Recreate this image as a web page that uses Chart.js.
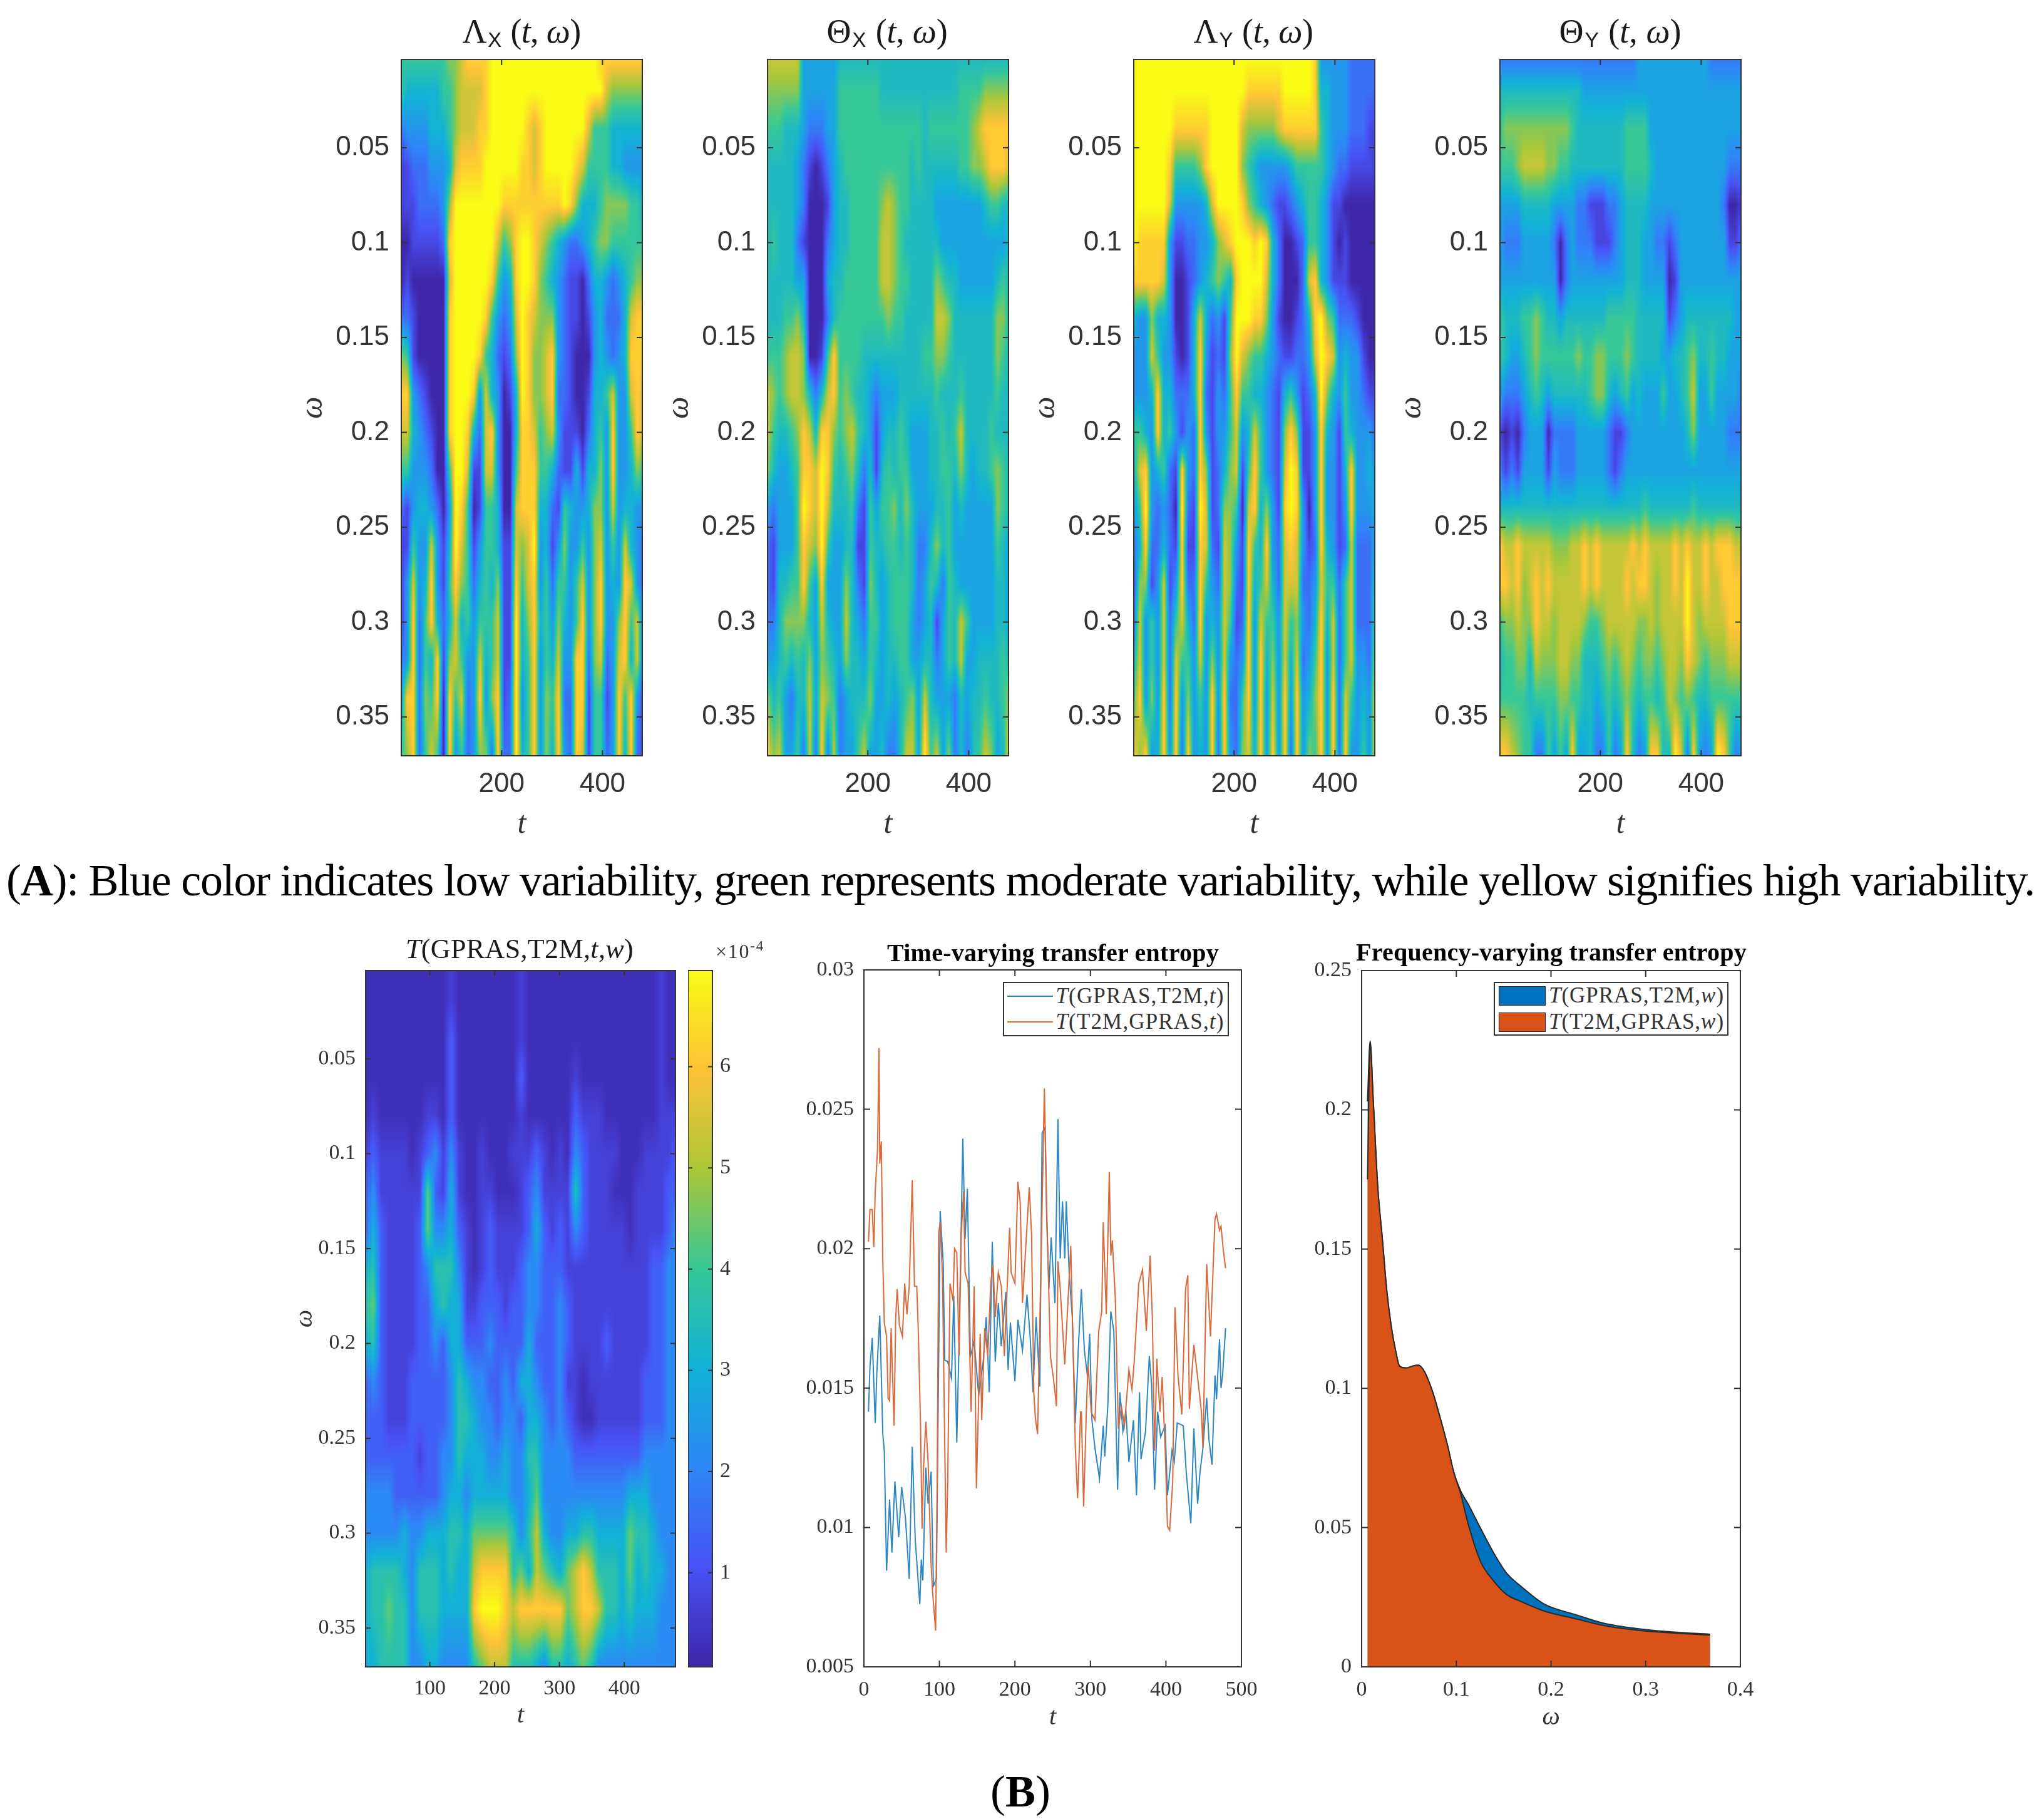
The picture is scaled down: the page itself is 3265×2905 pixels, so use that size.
<!DOCTYPE html>
<html><head><meta charset="utf-8">
<script src="https://cdn.jsdelivr.net/npm/chart.js@4/dist/chart.umd.min.js"></script>
<style>
html,body{margin:0;padding:0;background:#fff;width:3265px;height:2905px;overflow:hidden}
#page{position:relative;width:3265px;height:2905px}
canvas{position:absolute}
.t{position:absolute;white-space:nowrap;transform:translate(-50%,-50%);color:#1a1a1a;z-index:5;line-height:1.2}
.sans{font-family:'Liberation Sans';font-size:.62em;position:relative;top:.22em;margin:0 .06em}
.lg{position:absolute;background:#fff;border:2px solid #333;z-index:4;box-sizing:border-box}
.mark{position:absolute;z-index:6}
</style></head><body><div id="page"></div>
<script>
// ---------- shared grid axes ----------
const tGrid=[1,13,25,37,49,61,73,85,97,109,121,133,145,157,169,181,193,205,217,229,241,253,265,277,289,301,313,325,337,349,361,373,385,397,409,421,433,445,457,469,481];
const wGrid=[.0035,.02,.04,.06,.08,.1,.12,.14,.16,.18,.2,.22,.24,.26,.28,.3,.32,.34,.3705];
const omegaTicks=[.05,.1,.15,.2,.25,.3,.35];
const tTicksA=[200,400];
const tTicksB=[100,200,300,400];
const cbTicks=[1,2,3,4,5,6];
const entropyTicks=[.005,.01,.015,.02,.025,.03];
const lineTTicks=[0,100,200,300,400,500];
const areaXTicks=[0,.1,.2,.3,.4];
const areaYTicks=[0,.05,.1,.15,.2,.25];

// ---------- heat values, level 0..9, one string per omega row ----------
const lambdaX=[
"5555555566"+"7888899999"+"9999999999"+"9998888888"+"8",
"5444444556"+"7777899999"+"9999999999"+"9999766666"+"6",
"2333344456"+"7778899999"+"9878999999"+"9755544444"+"4",
"1122233347"+"8888999999"+"8878999998"+"7555544333"+"3",
"1112222369"+"9999999888"+"8888888986"+"4445666655"+"4",
"0011111289"+"9999997568"+"9987654322"+"3456655555"+"5",
"0100000079"+"9999985348"+"9986543211"+"0244323456"+"6",
"2210000089"+"9999853237"+"9876663211"+"0134222478"+"8",
"6510000089"+"9998542126"+"9866783210"+"0034323488"+"8",
"8832100089"+"9983743014"+"9866782210"+"0144573378"+"7",
"7743210089"+"9842783004"+"8875673111"+"0245383358"+"7",
"5533320059"+"9711773005"+"8885542114"+"1446383346"+"5",
"2134432039"+"8501554007"+"8884421543"+"3466373443"+"3",
"1153373149"+"7513554117"+"6793413633"+"5367353743"+"2",
"1373483158"+"6524546118"+"5783525535"+"7368343873"+"2",
"1382584247"+"4535557119"+"4684536435"+"8368336857"+"2",
"2382548167"+"5337457119"+"4583547338"+"8267237847"+"2",
"3882658085"+"7238368129"+"3583658228"+"8155138583"+"1",
"5682575083"+"5236628229"+"4583648328"+"7155238482"+"1"];
const thetaX=[
"7777773333"+"3344444444"+"4444444444"+"4444444444"+"4",
"6666663333"+"3355555554"+"4444444444"+"4455556666"+"6",
"5554443222"+"3355555555"+"5555554555"+"5555678888"+"8",
"4444432101"+"2345555555"+"5555454444"+"4455667888"+"7",
"4444432000"+"1344555556"+"7655444433"+"3333334554"+"4",
"4544421000"+"2344555557"+"7654444443"+"3333333333"+"4",
"4444433000"+"3445555557"+"7655444465"+"4433333345"+"4",
"4445564000"+"2455555555"+"6554444477"+"6444444466"+"4",
"5556776001"+"5855554444"+"4444445566"+"5444444465"+"4",
"7656776424"+"7856544323"+"3344444454"+"4454444454"+"4",
"7544568748"+"8656754313"+"4454333445"+"4574444544"+"4",
"6433458879"+"8545642414"+"5455333445"+"5464344565"+"4",
"3233359879"+"7444521535"+"5646433344"+"5343333365"+"4",
"2133358769"+"5334411544"+"5545422464"+"5333333354"+"3",
"2144558538"+"3336421643"+"4555423542"+"5433333344"+"3",
"2246666437"+"4337432553"+"4555323413"+"5475333344"+"3",
"3345454636"+"5436443543"+"4455334423"+"5473344445"+"4",
"6453244737"+"6523444633"+"4345637433"+"3243445445"+"6",
"8673352728"+"2723357334"+"2247739573"+"6242457634"+"8"];
const lambdaY=[
"9999999999"+"9999999999"+"9999999999"+"8333332222"+"2",
"9999999999"+"9999999998"+"8888899999"+"8443332222"+"2",
"9999999888"+"8889999976"+"6666788888"+"8543332221"+"1",
"9999998555"+"5689999965"+"4333334555"+"5543221111"+"1",
"9999997333"+"3347999986"+"5432112345"+"5431100000"+"0",
"9888883112"+"2334678999"+"8984200125"+"5431010000"+"0",
"8888873001"+"2345654899"+"9974200027"+"8431110000"+"0",
"4336443001"+"4742315999"+"8863100124"+"8965222100"+"0",
"3337533101"+"4831216976"+"5543211223"+"7987343310"+"0",
"3334844222"+"4821325855"+"4432145312"+"4964353321"+"1",
"5543845313"+"2831335734"+"7532168611"+"3843154333"+"2",
"4783452183"+"2861246715"+"8532179811"+"3833148334"+"3",
"3593232092"+"1971266507"+"8463189830"+"3833138333"+"4",
"2482242181"+"1872176318"+"5483278731"+"2843127222"+"4",
"1661371382"+"2853276218"+"4574277722"+"3755257222"+"5",
"2735372574"+"2834375128"+"3755375632"+"4847257222"+"6",
"4735372755"+"3736373238"+"3846374723"+"5837257332"+"7",
"5836382836"+"3538382258"+"3837383834"+"6838275343"+"8",
"8683483828"+"3438283267"+"4838382836"+"5838283353"+"8"];
const thetaY=[
"2222222222"+"2222222222"+"2223333333"+"3333322222"+"2",
"4444444444"+"4444333333"+"3333333333"+"3333333333"+"3",
"5666666666"+"6654444444"+"4555533333"+"3333333333"+"3",
"5556777766"+"5544444444"+"4555543333"+"3333333322"+"2",
"3333444443"+"3332211122"+"3444433333"+"3333333200"+"1",
"3222333332"+"0232221112"+"3444332212"+"3333333311"+"2",
"3333333333"+"0233333333"+"3444333301"+"3333333333"+"3",
"5444556544"+"3444444455"+"5554444412"+"3444444443"+"3",
"5433456555"+"5556556655"+"5654444334"+"4564454433"+"3",
"3222345434"+"4444456643"+"4534333533"+"4573353333"+"2",
"1010233302"+"2223333321"+"1233333333"+"3463333322"+"2",
"2121333313"+"2223333321"+"2333333333"+"3333333333"+"3",
"4444444444"+"4444444444"+"4444544444"+"4454444444"+"4",
"8778777776"+"6677878777"+"7787877778"+"7877878887"+"7",
"8878678787"+"7777878777"+"7878876778"+"7977877888"+"8",
"5667668776"+"7777655677"+"7776676777"+"7976777788"+"8",
"4556647666"+"7766444565"+"6765665677"+"6876566677"+"7",
"5555545555"+"6655443454"+"5654554576"+"5654455555"+"5",
"8876552253"+"5383342252"+"3842388449"+"7283239852"+"3"];
const transferTW=[
"0000000000"+"0100000000"+"1000000000"+"0000000010"+"0",
"0000000000"+"0100000000"+"1000000000"+"0000000010"+"0",
"0000000000"+"0200000000"+"1000000000"+"0000000010"+"0",
"0000000000"+"0200000000"+"2000000100"+"0000000010"+"0",
"0100000011"+"0200000000"+"1000000211"+"1000000011"+"1",
"1211110123"+"1310010001"+"1121010321"+"1110001111"+"2",
"2311111162"+"1410011000"+"1231111521"+"1100011112"+"2",
"2421111263"+"3421012111"+"1242121321"+"1111011112"+"3",
"4521111235"+"5531012111"+"2332221111"+"1111111223"+"3",
"5621111224"+"5441122212"+"2332232111"+"1111111223"+"3",
"4521111223"+"2442223222"+"2422232111"+"1211111223"+"3",
"2321112222"+"2354332232"+"4432231101"+"1111112223"+"3",
"2221112222"+"2355433233"+"2443232100"+"1111112223"+"3",
"2222222122"+"3354443343"+"3553333222"+"2222223333"+"3",
"3333222222"+"3443444443"+"3463333333"+"3333444333"+"3",
"3333343344"+"4554666665"+"3574334455"+"4444655433"+"3",
"4555543555"+"4544788885"+"6476546787"+"5554645443"+"3",
"4556553555"+"4444899987"+"8888886788"+"7554544433"+"3",
"4455553344"+"3333567775"+"5543554565"+"3333333333"+"3"];

// ---------- what each level 0..9 means on the colour scale, per panel ----------
const levelsDefault=[0,.11,.22,.34,.44,.56,.67,.78,.89,1];
const levelsTheta=[0,.1,.25,.38,.48,.57,.67,.76,.88,1];
const levelsTransfer=[.03,.09,.18,.3,.42,.52,.63,.75,.88,1];

// ---------- time-varying transfer entropy ----------
const gprasT=[6,8,11,15,17,21,25,27,30,34,37,41,46,50,55,60,64,68,74,76,78,82,85,89,92,96,101,105,107,111,116,119,123,126,131,134,137,141,146,152,158,162,166,170,174,178,182,188,191,194,200,204,210,216,220,224,228,233,236,240,242,245,248,253,257,260,263,266,268,272,276,280,284,288,292,296,299,302,306,312,317,319,323,327,331,336,339,343,347,351,357,361,365,367,373,378,381,385,389,393,399,402,408,411,415,423,427,433,437,442,445,449,454,457,461,465,467,471,473,475,479];
const gprasV=[14.15,15.75,16.8,13.75,15.5,17.6,13.35,12.75,8.45,11,9.1,11.65,9.65,11.45,10.35,8.15,12.9,9.55,7.25,8.85,8.1,12.15,10.85,12,7.9,8.15,21.35,19.5,16,15.95,15.35,18.3,13.05,16.65,23.95,20.35,22.15,16.15,16.65,14.75,15.95,17.55,14.85,20.25,15.95,18.05,16.5,18.45,15.65,17.35,15.25,17.45,16.35,18.35,16.9,14.85,17.55,15.05,24.15,24.35,21.15,18.55,20.4,18.05,24.65,19.65,21.7,19.65,21.7,19.05,17.55,13.75,16.45,18.55,16.35,15.45,16.95,13.85,12.85,11.75,13.65,12.55,14.35,17.75,17.05,11.35,14.85,13.45,14.15,12.35,13.85,11.15,14.85,12.45,13.45,16.15,15.15,11.35,14.15,13.25,13.65,11.15,12.75,12.35,13.75,13.65,11.95,10.15,13.55,10.85,11.95,12.85,14.65,13.15,12.25,15.45,14.6,16.75,15,15.45,17.15];
const t2mT=[6,8,11,13,15,18,20,21,23,25,27,30,32,34,36,40,42,44,47,51,54,57,60,64,67,70,72,75,77,79,82,85,89,91,95,97,99,101,104,109,111,114,118,120,123,126,129,132,134,138,142,146,149,154,156,160,164,168,171,174,178,182,186,193,195,200,204,207,210,219,222,225,227,230,235,239,242,247,251,255,257,260,266,274,276,280,283,287,288,291,295,297,301,306,311,315,317,321,325,327,329,333,337,341,345,351,355,358,364,369,374,379,382,385,388,392,395,399,402,405,409,412,416,421,426,429,431,437,443,447,449,454,459,465,467,471,473,476,479];
const t2mV=[20.25,21.4,21.4,20.05,22.05,23.55,27.2,23.05,23.85,19.55,17.35,16.85,14.65,14.55,17.15,13.65,17.45,18.55,17.25,16.85,18.75,17.65,18.65,22.45,18.65,18.65,17.05,13.65,9.95,12.15,13.8,12.35,8.65,7.65,6.3,11.65,20.55,20.95,19.05,9.1,11.65,18.75,18.15,20,19.85,16.15,20.55,22.05,19.15,18.75,14.15,18.65,11.4,16.95,13.85,17.15,16.15,18.75,19.45,17.55,19.15,18.65,16.15,20.75,19.15,18.75,22.4,21.65,18.05,22.2,20.55,14.85,13.95,13.35,20.05,25.75,21.55,16.15,15.35,14.35,19.55,18.55,15.85,20.1,17.65,12.85,11.05,14.15,14.15,10.75,14.55,15.85,14.15,13.85,17.05,17.75,20.95,17.65,22.75,19.75,20.3,18.2,13.55,14.35,13.65,15.65,14.95,15.95,18.75,19.25,17.05,19.75,17.55,12.75,16.05,14.15,15.4,12.85,10.05,9.9,11.65,17.9,15.45,14.05,18.55,19.05,14.25,16.55,15.15,14.15,12.85,19.45,16.85,21.05,21.25,20.65,20.8,19.95,19.3];

// ---------- frequency-varying transfer entropy ----------
const omegaA=[.0062,.009,.0122,.017,.0218,.0266,.0314,.0362,.04,.0475,.054,.06,.0667,.0747,.0828,.0908,.0972,.1042,.1132,.126,.139,.153,.168,.193,.2255,.2575,.29,.3217,.368];
const gprasW=[.203,.2247,.204,.1725,.154,.135,.122,.113,.108,.1073,.108,.1083,.1058,.099,.0896,.0794,.07,.0635,.058,.0495,.0412,.0337,.029,.0225,.0188,.0155,.0138,.0127,.0117];
const t2mW=[.175,.2235,.204,.1725,.154,.135,.122,.113,.108,.1073,.108,.1083,.1058,.099,.0896,.0794,.07,.0626,.0505,.0375,.031,.026,.0235,.02,.0173,.0147,.0132,.0123,.0114];

// ---------- parula colour map ----------
const PARULA=[[62,38,168],[72,82,244],[46,135,247],[18,177,214],[55,200,151],[171,199,57],[254,195,56],[249,251,21]];
function parula(v){v=Math.max(0,Math.min(1,v))*(PARULA.length-1);const i=Math.min(PARULA.length-2,Math.floor(v)),f=v-i;
 return [0,1,2].map(k=>PARULA[i][k]+(PARULA[i+1][k]-PARULA[i][k])*f);}

const page=document.getElementById('page');
const INK='#333333';
function addCanvas(x,y,w,h){const c=document.createElement('canvas');c.width=w;c.height=h;c.style.cssText=`left:${x}px;top:${y}px;width:${w}px;height:${h}px`;page.appendChild(c);return c;}

function framePlugin(len){return{id:'frame',afterDraw(chart){const{ctx,chartArea:a,scales:{x,y}}=chart;ctx.save();ctx.strokeStyle=INK;ctx.lineWidth=2;
 ctx.strokeRect(a.left,a.top,a.right-a.left,a.bottom-a.top);ctx.beginPath();
 x.ticks.forEach(t=>{const p=x.getPixelForValue(t.value);ctx.moveTo(p,a.bottom);ctx.lineTo(p,a.bottom-len);ctx.moveTo(p,a.top);ctx.lineTo(p,a.top+len);});
 y.ticks.forEach(t=>{const p=y.getPixelForValue(t.value);ctx.moveTo(a.left,p);ctx.lineTo(a.left+len,p);ctx.moveTo(a.right,p);ctx.lineTo(a.right-len,p);});
 ctx.stroke();ctx.restore();}};}

function heatPlugin(rows,levels){const grid=rows.map(r=>Array.from(r,d=>levels[+d]));
 return{id:'heat',beforeDatasetsDraw(chart){const{ctx,chartArea:a,scales:{x,y}}=chart;
  const W=Math.round(a.right-a.left),H=Math.round(a.bottom-a.top),off=document.createElement('canvas');off.width=W;off.height=H;
  const oc=off.getContext('2d'),img=oc.createImageData(W,H),n=tGrid.length,m=wGrid.length;
  const cx=[];for(let i=0;i<W;i++){const t=x.getValueForPixel(a.left+i+.5);let k=0;while(k<n-2&&tGrid[k+1]<t)k++;cx.push([k,Math.max(0,Math.min(1,(t-tGrid[k])/(tGrid[k+1]-tGrid[k])))]);}
  for(let j=0;j<H;j++){const w=y.getValueForPixel(a.top+j+.5);let r=0;while(r<m-2&&wGrid[r+1]<w)r++;const g=Math.max(0,Math.min(1,(w-wGrid[r])/(wGrid[r+1]-wGrid[r])));
   for(let i=0;i<W;i++){const[k,f]=cx[i];const v=(grid[r][k]*(1-f)+grid[r][k+1]*f)*(1-g)+(grid[r+1][k]*(1-f)+grid[r+1][k+1]*f)*g;
    const c=parula(v),p=4*(j*W+i);img.data[p]=c[0];img.data[p+1]=c[1];img.data[p+2]=c[2];img.data[p+3]=255;}}
  oc.putImageData(img,0,0);ctx.drawImage(off,a.left,a.top);}};}

function axisOpts(ticksArr,min,max,fontFamily,size,pad,extra){return Object.assign({type:'linear',min,max,
 grid:{display:false,drawTicks:false},border:{display:false},
 afterBuildTicks:s=>{s.ticks=ticksArr.map(v=>({value:v}));},
 ticks:{autoSkip:false,maxRotation:0,minRotation:0,color:INK,padding:pad,font:{family:fontFamily,size},callback:v=>String(v)}},extra||{});}

function panel(box,m,xAxis,yAxis,datasets,plugins){
 const W=box.r-box.l+m.l+m.r,H=box.b-box.t+m.t+m.b;
 const c=addCanvas(box.l-m.l,box.t-m.t,W,H);
 const right=yAxis.position==='right';
 xAxis.afterFit=s=>{s.height=m.b;};yAxis.afterFit=s=>{s.width=right?m.r:m.l;};
 return new Chart(c,{type:'scatter',data:{datasets},plugins,options:{responsive:false,animation:false,devicePixelRatio:1,
  layout:{padding:{top:m.t,right:right?0:m.r,left:0,bottom:0}},
  plugins:{legend:{display:false},title:{display:false},tooltip:{enabled:false}},
  scales:{x:xAxis,y:yAxis}}});
}
function cellsOf(rows){const out=[];rows.forEach((r,j)=>Array.from(r).forEach((d,i)=>out.push({x:tGrid[i],y:wGrid[j],v:+d})));return out;}
const sans="'Liberation Sans'",serif="'Liberation Serif'";
const axTitle=(text,fam,size)=>({display:true,text,color:INK,padding:0,font:{family:fam,size,style:'italic'}});

// ---------- panel A ----------
const A=[[lambdaX,levelsDefault,641,1026],[thetaX,levelsTheta,1226,1611],[lambdaY,levelsDefault,1811,2196],[thetaY,levelsTheta,2396,2781]];
A.forEach(([rows,levels,l,r])=>{
 panel({l,r,t:95,b:1207},{l:170,r:70,t:50,b:140},
  axisOpts(tTicksA,1,479,sans,44,19,{title:axTitle('t',serif,50)}),
  axisOpts(omegaTicks,.0035,.3705,sans,44,19,{reverse:true,title:axTitle('ω',serif,50)}),
  [{data:cellsOf(rows),pointRadius:0,showLine:false}],[heatPlugin(rows,levels),framePlugin(9)]);
});

// ---------- panel B heat map + colour bar ----------
panel({l:584,r:1079,t:1550,b:2662},{l:121,r:15,t:50,b:102},
 axisOpts(tTicksB,1,479,serif,34,15,{title:axTitle('t',serif,40)}),
 axisOpts(omegaTicks,.0035,.3705,serif,34,16,{reverse:true,title:axTitle('ω',serif,40)}),
 [{data:cellsOf(transferTW),pointRadius:0,showLine:false}],[heatPlugin(transferTW,levelsTransfer),framePlugin(8)]);

const cbMin=.07,cbMax=6.95;
const cbPlugin={id:'cb',beforeDatasetsDraw(chart){const{ctx,chartArea:a,scales:{y}}=chart;
 for(let p=Math.floor(a.top);p<a.bottom;p++){const v=(y.getValueForPixel(p+.5)-cbMin)/(cbMax-cbMin),c=parula(v);ctx.fillStyle=`rgb(${c[0]|0},${c[1]|0},${c[2]|0})`;ctx.fillRect(a.left,p,a.right-a.left,1.5);}}};
panel({l:1099,r:1138,t:1550,b:2662},{l:0,r:60,t:50,b:50},
 {type:'linear',min:0,max:1,grid:{display:false,drawTicks:false},border:{display:false},ticks:{display:false},afterBuildTicks:s=>{s.ticks=[];}},
 axisOpts(cbTicks,cbMin,cbMax,serif,34,12,{position:'right'}),
 [{data:cbTicks.map(v=>({x:.5,y:v})),pointRadius:0,showLine:false}],[cbPlugin,framePlugin(7)]);

// ---------- panel B line chart ----------
panel({l:1380,r:1983,t:1549,b:2662},{l:110,r:50,t:50,b:105},
 axisOpts(lineTTicks,0,500,serif,34,17,{title:axTitle('t',serif,40)}),
 axisOpts(entropyTicks,.005,.03,serif,34,16),
 [{data:t2mT.map((t,i)=>({x:t,y:t2mV[i]/1000})),showLine:true,pointRadius:0,borderColor:'#D9693A',borderWidth:2,tension:0,order:1},
  {data:gprasT.map((t,i)=>({x:t,y:gprasV[i]/1000})),showLine:true,pointRadius:0,borderColor:'#2C86C2',borderWidth:2,tension:0,order:2}],
 [framePlugin(10)]);

// ---------- panel B area chart ----------
panel({l:2175,r:2780,t:1550,b:2662},{l:110,r:70,t:50,b:105},
 axisOpts(areaXTicks,0,.4,serif,34,17,{title:axTitle('ω',serif,40)}),
 axisOpts(areaYTicks,0,.25,serif,34,16),
 [{data:omegaA.map((w,i)=>({x:w,y:t2mW[i]})),showLine:true,pointRadius:0,borderColor:'#2a2a2a',borderWidth:2,backgroundColor:'#D95319',fill:'origin',cubicInterpolationMode:'monotone',order:1},
  {data:omegaA.map((w,i)=>({x:w,y:gprasW[i]})),showLine:true,pointRadius:0,borderColor:'#2a2a2a',borderWidth:2,backgroundColor:'#0072BD',fill:'origin',cubicInterpolationMode:'monotone',order:2}],
 [framePlugin(10)]);

// ---------- text overlays ----------
function text(html,cx,cy,family,size,width,extra){const e=document.createElement('div');e.className='t';e.innerHTML=html;e.style.left=cx+'px';e.style.top=cy+'px';e.style.fontFamily=family;e.style.fontSize=size+'px';
 if(extra)Object.assign(e.style,extra);page.appendChild(e);
 if(width){const n=e.textContent.length,w=e.getBoundingClientRect().width;e.style.letterSpacing=((width-w)/n)+'px';}return e;}
text('Λ<span class="sans">X</span> (<i>t</i>, <i>ω</i>)',833,50,serif,54,189);
text('Θ<span class="sans">X</span> (<i>t</i>, <i>ω</i>)',1417,50,serif,54,193);
text('Λ<span class="sans">Y</span> (<i>t</i>, <i>ω</i>)',2002,50,serif,54,191);
text('Θ<span class="sans">Y</span> (<i>t</i>, <i>ω</i>)',2588,50,serif,54,195);
text('(<b>A</b>): Blue color indicates low variability, green represents moderate variability, while yellow signifies high variability.',1630,1406,serif,72,3240,{color:'#000'});
text('(<b>B</b>)',1630,2861,serif,72,null,{color:'#000'});
text('<i>T</i>(GPRAS,T2M,<i>t</i>,<i>w</i>)',830,1516,serif,44,364);
text('×10<sup style="font-size:.72em">-4</sup>',1182,1518,serif,32,78,{color:INK});
text('<b>Time-varying transfer entropy</b>',1682,1522,serif,40,530,{color:'#000'});
text('<b>Frequency-varying transfer entropy</b>',2478,1521,serif,40,624,{color:'#000'});

function legendBox(l,t,r,b){const d=document.createElement('div');d.className='lg';d.style.cssText=`left:${l}px;top:${t}px;width:${r-l}px;height:${b-t}px`;page.appendChild(d);}
function mark(l,t,w,h,css){const d=document.createElement('div');d.className='mark';d.style.cssText=`left:${l}px;top:${t}px;width:${w}px;height:${h}px;${css}`;page.appendChild(d);}
legendBox(1602,1568,1963,1655);
mark(1609,1590,73,2,'background:#2C86C2');mark(1609,1631,73,2,'background:#D9693A');
text('<i>T</i>(GPRAS,T2M,<i>t</i>)',1821,1591,serif,35,269,{color:INK});
text('<i>T</i>(T2M,GPRAS,<i>t</i>)',1821,1632,serif,35,269,{color:INK});
legendBox(2386,1568,2761,1654);
mark(2394,1575,75,31,'background:#0072BD;border:1px solid #222;box-sizing:border-box');
mark(2394,1617,75,31,'background:#D95319;border:1px solid #222;box-sizing:border-box');
text('<i>T</i>(GPRAS,T2M,<i>w</i>)',2614,1590,serif,35,280,{color:INK});
text('<i>T</i>(T2M,GPRAS,<i>w</i>)',2614,1632,serif,35,280,{color:INK});
</script></body></html>
